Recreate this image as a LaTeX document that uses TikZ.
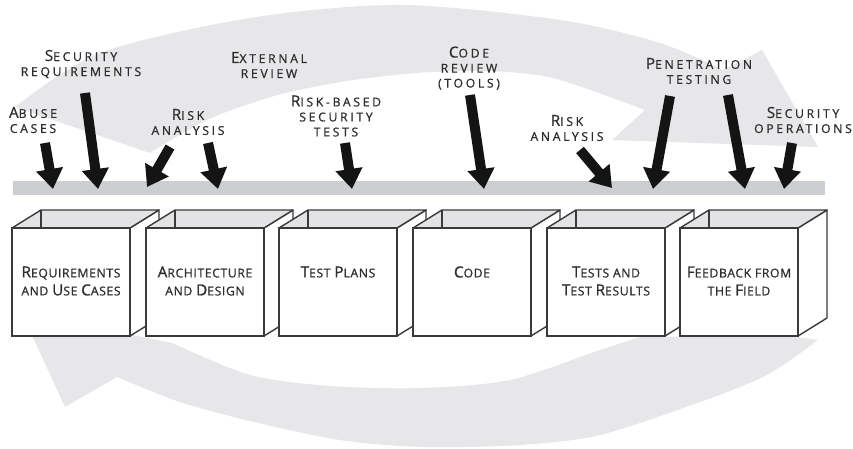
\documentclass[tikz,border=0pt]{standalone}
\usepackage{fontspec}
\usetikzlibrary{arrows.meta,calc}
\newfontfamily\lblfont[LetterSpace=22,FakeBold=0.8]{Open Sans}
\newfontfamily\boxfont[LetterSpace=5,FakeBold=0.8]{Open Sans}
\newcommand\Bc[1]{{\fontsize{15.3}{15}\selectfont #1}}
\definecolor{bandc}{HTML}{E7E7E9}
\definecolor{barc}{HTML}{CDCED1}
\definecolor{boxtopc}{HTML}{E3E3E5}
\definecolor{linec}{HTML}{3A3A3A}
\definecolor{textc}{HTML}{2E2E2E}
\definecolor{arrowc}{HTML}{141414}
\tikzset{
  band/.style={fill=bandc},
  bigarrow/.style={draw=arrowc, fill=arrowc, line width=10pt, -{Triangle[width=26pt,length=20pt]}},
  lbl/.style={font=\lblfont\fontsize{12.2}{15}\selectfont, text=textc, align=center, inner sep=0pt},
  boxtxt/.style={font=\boxfont\fontsize{12.2}{18}\selectfont, text=textc, align=center, inner sep=0pt},
  boxfront/.style={draw=linec, line width=1.4pt, fill=white, minimum width=118pt, minimum height=108pt, inner sep=0pt, outer sep=0pt},
  boxedge/.style={draw=linec, line width=1.4pt, line join=round},
}
\begin{document}
\begin{tikzpicture}[x=1pt,y=-1pt]
\useasboundingbox (0,0) rectangle (853,449);
\fill[white] (0,0) rectangle (853,449);
% top curved arrow
\fill[band] plot[smooth] coordinates {(15,107) (100,53) (250,18) (400,5) (560,20) (660,43) (723,70)}
  -- (762,50) -- (818,147) -- (612,140) -- (645,110)
  -- plot[smooth] coordinates {(645,110) (553,78) (484,71) (416,73) (347,81) (278,95) (209,119) (150,153)} -- cycle;
% bottom curved arrow
\fill[band] (14,296) -- (65,407) -- (117,377)
  -- plot[smooth] coordinates {(117,377) (180,402) (250,421) (340,440) (423,447) (520,445) (600,435) (700,402) (767,375) (818,340)}
  -- (797,337) -- (640,337)
  -- plot[smooth] coordinates {(640,337) (600,350) (510,380) (420,388) (330,386) (250,375) (172,343)}
  -- (128,334) -- cycle;
% bar
\fill[barc] (13,181) rectangle (825,195);
% labels
\node[lbl] (l1) at (81,64) {\Bc{S}ECURITY\\REQUIREMENTS};
\node[lbl] (l2) at (33,120) {\Bc{A}BUSE\\CASES};
\node[lbl] (l3) at (269,65) {\Bc{E}XTERNAL\\REVIEW};
\node[lbl] (l4) at (188,122) {\Bc{R}ISK\\ANALYSIS};
\node[lbl] (l5) at (336,116) {\Bc{R}ISK-BASED\\SECURITY\\TESTS};
\node[lbl] (l6) at (469,68) {\Bc{C}ODE\\REVIEW\\(TOOLS)};
\node[lbl] (l7) at (567,128) {\Bc{R}ISK\\ANALYSIS};
\node[lbl] (l8) at (699,71) {\Bc{P}ENETRATION\\TESTING};
\node[lbl] (l9) at (803,120) {\Bc{S}ECURITY\\OPERATIONS};
% arrows
\coordinate (a1s) at (45,143);  \coordinate (a1e) at (53,189);
\coordinate (a2s) at (85,93);   \coordinate (a2e) at (98,189);
\coordinate (a3s) at (170,147); \coordinate (a3e) at (147,187);
\coordinate (a4s) at (208,143); \coordinate (a4e) at (218,189);
\coordinate (a5s) at (345,143); \coordinate (a5e) at (352,189);
\coordinate (a6s) at (470,95);  \coordinate (a6e) at (484,189);
\coordinate (a7s) at (580,150); \coordinate (a7e) at (612,188);
\coordinate (a8s) at (670,96);  \coordinate (a8e) at (653,189);
\coordinate (a9s) at (728,95);  \coordinate (a9e) at (745,189);
\coordinate (a10s) at (792,143); \coordinate (a10e) at (784,189);
\foreach \i in {1,...,10} {\draw[bigarrow] (a\i s) -- (a\i e);}
% boxes
\foreach \cx/\nm in {71/b1,205/b2,338/b3,472/b4,606/b5,739/b6} {
  \node[boxfront] (\nm) at (\cx,282) {};
  \filldraw[boxedge, fill=white] (\nm.north east) -- ++(29,-18) -- ++(0,108) -- (\nm.south east) -- cycle;
  \filldraw[boxedge, fill=boxtopc] (\nm.north west) -- ++(29,-18) -- ++(118,0) -- (\nm.north east) -- cycle;
  \draw[boxedge] ($(\nm.north west)+(29,-18)$) -- ++(0,18);
  \draw[boxedge] (\nm.north west) rectangle (\nm.south east);
}
\node[boxtxt] (t1) at ($(b1.center)+(0,-1)$) {\Bc{R}EQUIREMENTS\\AND \Bc{U}SE \Bc{C}ASES};
\node[boxtxt] (t2) at ($(b2.center)+(0,-1)$) {\Bc{A}RCHITECTURE\\AND \Bc{D}ESIGN};
\node[boxtxt] (t3) at ($(b3.center)+(0,-10)$) {\Bc{T}EST \Bc{P}LANS};
\node[boxtxt] (t4) at ($(b4.center)+(0,-10)$) {\Bc{C}ODE};
\node[boxtxt] (t5) at ($(b5.center)+(0,-1)$) {\Bc{T}ESTS AND\\\Bc{T}EST \Bc{R}ESULTS};
\node[boxtxt] (t6) at ($(b6.center)+(0,-1)$) {\Bc{F}EEDBACK FROM\\THE \Bc{F}IELD};
\end{tikzpicture}
\end{document}
